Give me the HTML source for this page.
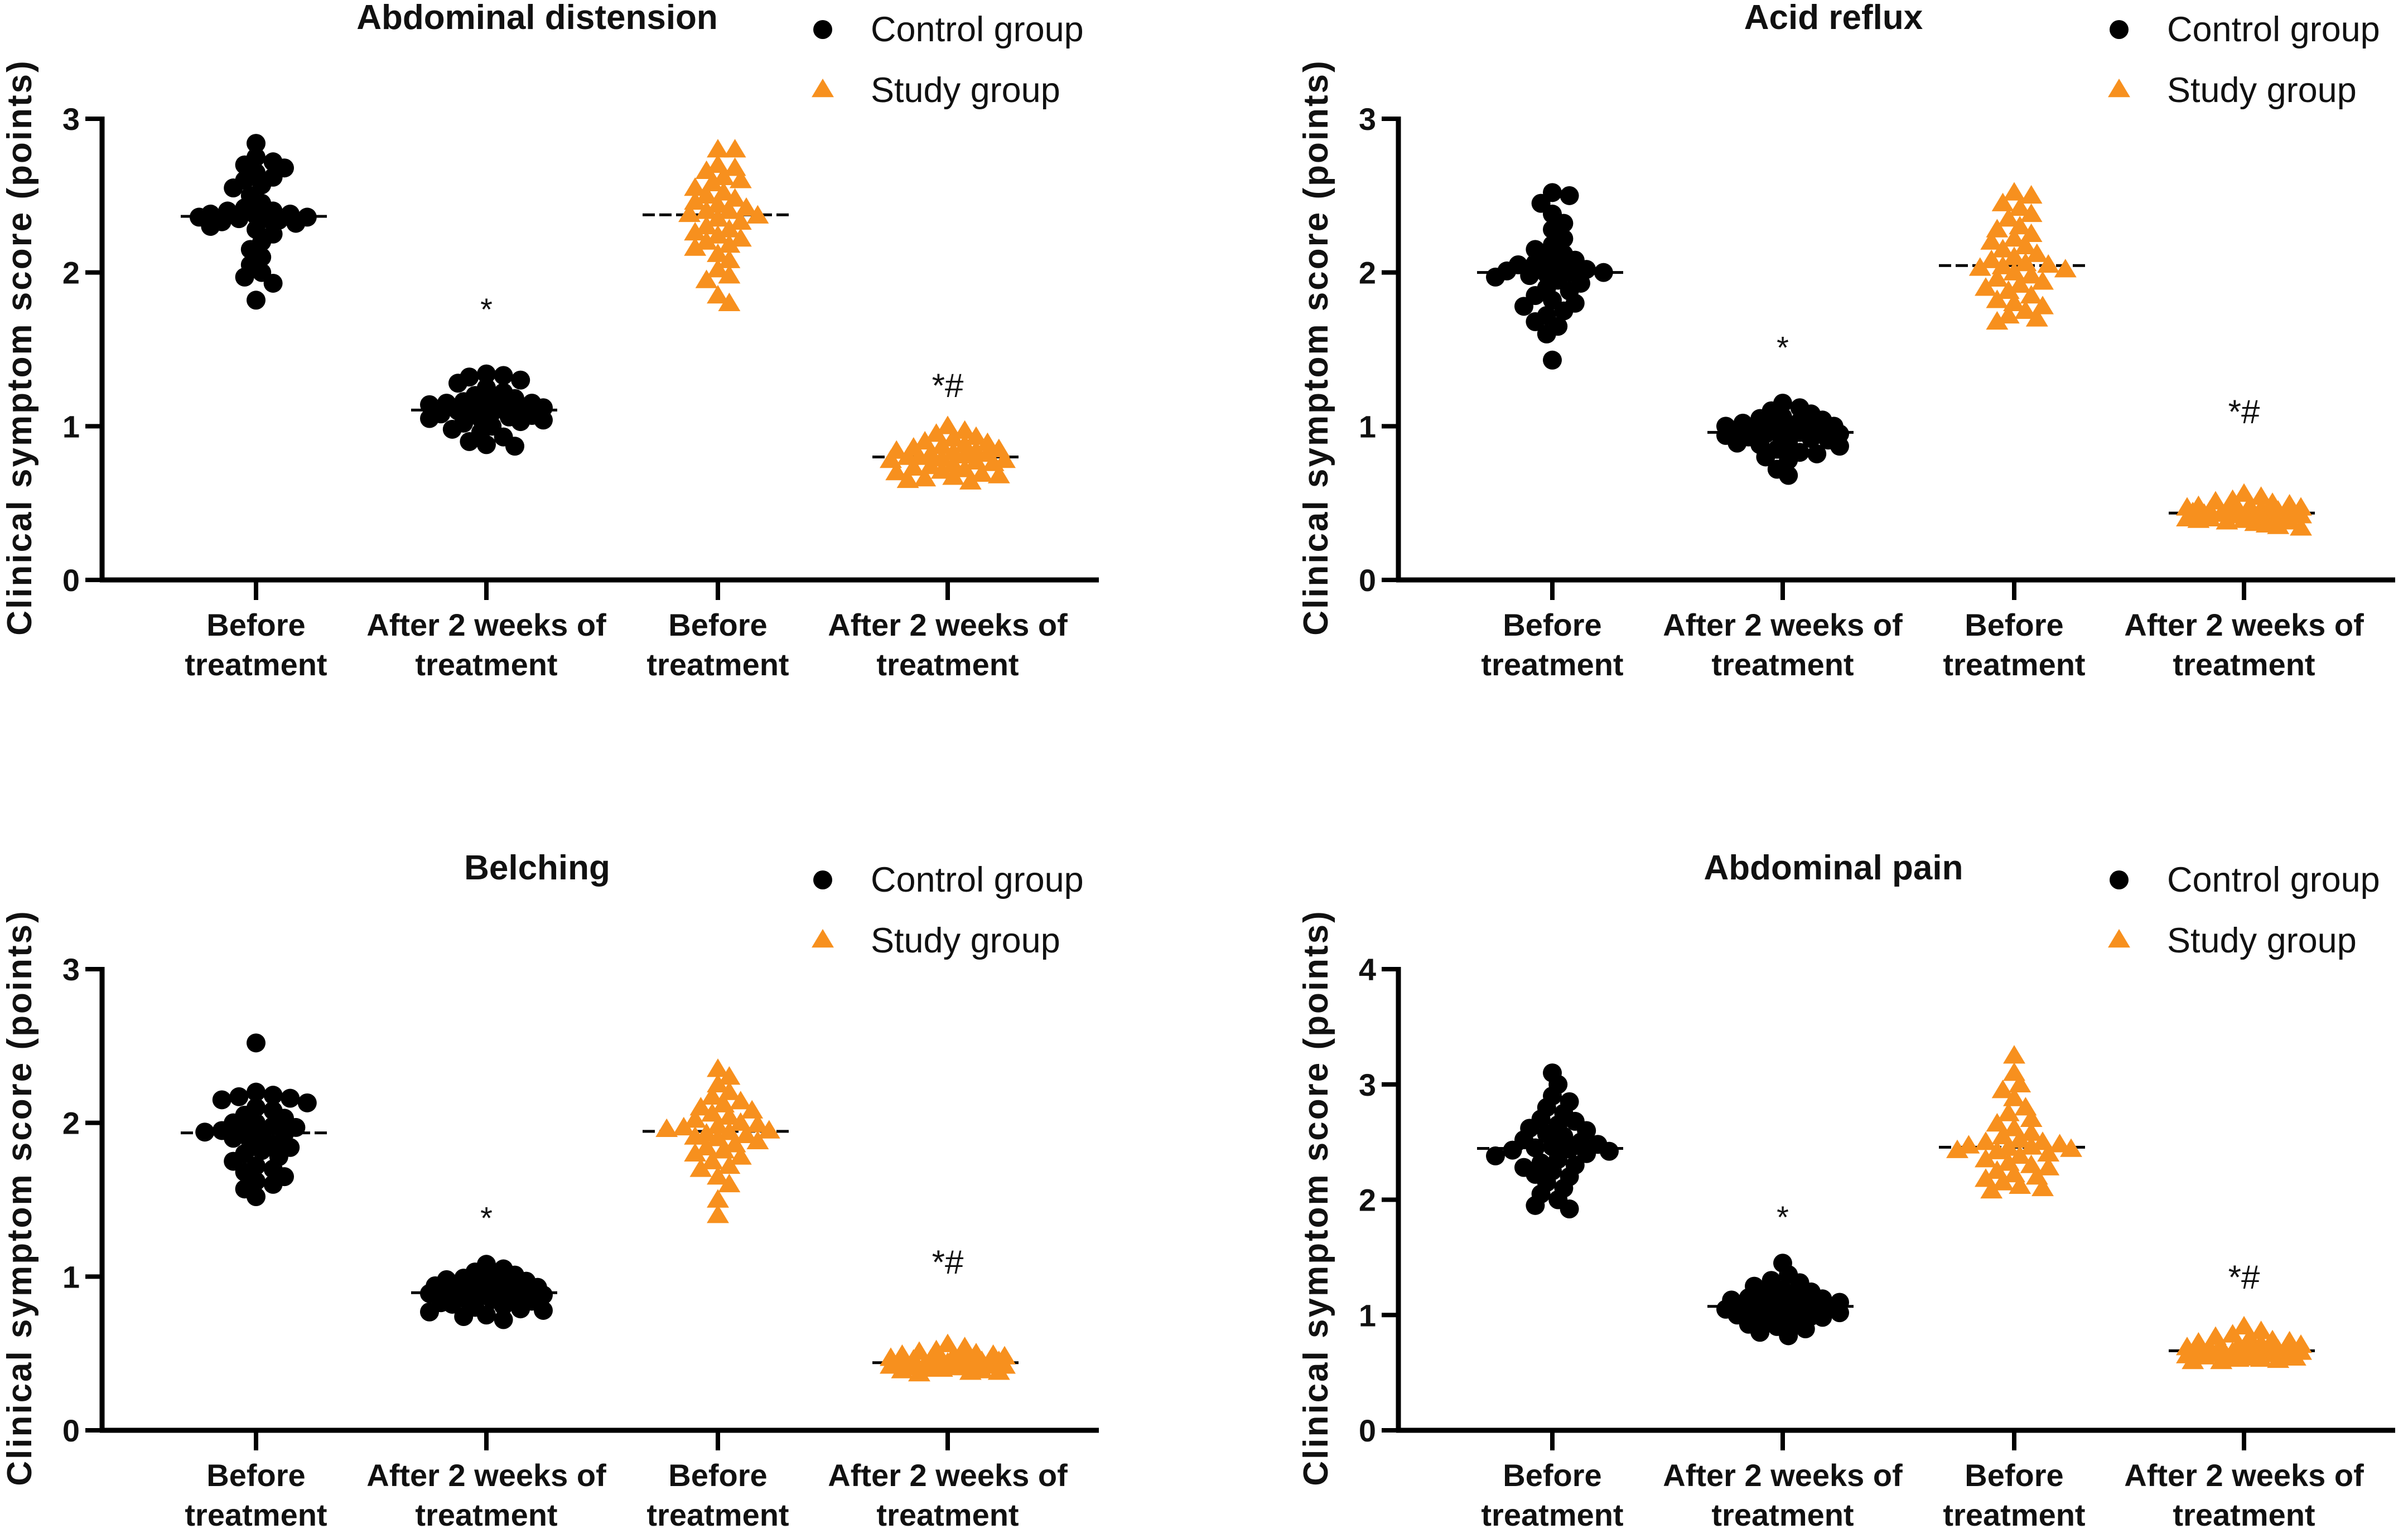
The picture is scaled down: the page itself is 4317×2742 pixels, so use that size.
<!DOCTYPE html>
<html><head><meta charset="utf-8">
<style>
html,body{margin:0;padding:0;background:#fff;}
svg{display:block;font-family:"Liberation Sans",Arial,sans-serif;}
</style></head>
<body>
<svg id="chart" width="4317" height="2742" viewBox="0 0 4317 2742" xmlns="http://www.w3.org/2000/svg"></svg>
<script>
// ---- data ----
const panelTitles = ["Abdominal distension","Acid reflux","Belching","Abdominal pain"];
const panelYMax = [3,3,3,4];
const categoryLine1 = ["Before","After 2 weeks of","Before","After 2 weeks of"];
const categoryLine2 = ["treatment","treatment","treatment","treatment"];
const seriesNames = ["Control group","Study group"];
const sigStar = [1.8,1.55,1.42,1.90];
const sigStarHash = [1.28,1.11,1.11,1.35];

const p1CtrlBefore=[2.84,2.75,2.72,2.7,2.68,2.65,2.62,2.6,2.57,2.55,2.5,2.45,2.42,2.4,2.4,2.38,2.38,2.37,2.36,2.36,2.35,2.35,2.34,2.33,2.32,2.3,2.28,2.25,2.2,2.15,2.1,2.05,2.0,1.97,1.93,1.82];
const p1CtrlAfter=[1.34,1.33,1.32,1.3,1.28,1.25,1.22,1.2,1.18,1.17,1.16,1.15,1.15,1.14,1.13,1.12,1.12,1.11,1.1,1.1,1.09,1.08,1.07,1.06,1.05,1.05,1.04,1.03,1.02,1.0,0.98,0.96,0.93,0.9,0.88,0.87];
const p1StudyBefore=[2.8,2.8,2.7,2.68,2.66,2.62,2.6,2.58,2.55,2.52,2.5,2.48,2.46,2.44,2.42,2.4,2.4,2.38,2.37,2.35,2.33,2.3,2.28,2.26,2.24,2.22,2.2,2.18,2.16,2.12,2.08,2.02,1.98,1.95,1.85,1.8];
const p1StudyAfter=[1.0,0.97,0.95,0.93,0.92,0.9,0.89,0.88,0.87,0.86,0.85,0.84,0.84,0.83,0.82,0.82,0.81,0.8,0.8,0.79,0.78,0.78,0.77,0.76,0.75,0.74,0.73,0.72,0.71,0.7,0.69,0.68,0.67,0.66,0.65,0.64];
const p2CtrlBefore=[2.52,2.5,2.45,2.38,2.32,2.28,2.22,2.18,2.15,2.12,2.1,2.08,2.06,2.05,2.03,2.02,2.01,2.0,2.0,1.99,1.98,1.97,1.95,1.93,1.9,1.88,1.85,1.82,1.8,1.78,1.75,1.72,1.68,1.65,1.6,1.43];
const p2CtrlAfter=[1.15,1.12,1.1,1.08,1.06,1.05,1.04,1.03,1.02,1.01,1.0,1.0,0.99,0.98,0.98,0.97,0.97,0.96,0.96,0.95,0.95,0.94,0.93,0.92,0.91,0.9,0.89,0.88,0.87,0.85,0.83,0.82,0.8,0.78,0.72,0.68];
const p2StudyBefore=[2.52,2.5,2.45,2.42,2.38,2.35,2.3,2.28,2.25,2.22,2.2,2.17,2.15,2.12,2.1,2.08,2.06,2.05,2.04,2.03,2.02,2.0,1.98,1.96,1.94,1.92,1.9,1.88,1.85,1.82,1.8,1.78,1.75,1.72,1.7,1.68];
const p2StudyAfter=[0.56,0.54,0.52,0.51,0.5,0.49,0.48,0.48,0.47,0.47,0.46,0.46,0.45,0.45,0.45,0.44,0.44,0.44,0.43,0.43,0.43,0.42,0.42,0.42,0.41,0.41,0.4,0.4,0.39,0.39,0.38,0.38,0.37,0.36,0.35,0.34];
const p3CtrlBefore=[2.52,2.2,2.18,2.17,2.16,2.15,2.13,2.1,2.08,2.05,2.03,2.0,2.0,1.98,1.97,1.96,1.95,1.94,1.93,1.92,1.9,1.88,1.86,1.84,1.82,1.8,1.78,1.75,1.72,1.7,1.68,1.65,1.62,1.6,1.57,1.52];
const p3CtrlAfter=[1.08,1.05,1.03,1.01,1.0,0.99,0.98,0.97,0.96,0.95,0.94,0.93,0.93,0.92,0.92,0.91,0.9,0.9,0.89,0.89,0.88,0.88,0.87,0.86,0.85,0.84,0.83,0.82,0.81,0.8,0.79,0.78,0.77,0.75,0.74,0.72];
const p3StudyBefore=[2.35,2.3,2.25,2.2,2.17,2.14,2.12,2.1,2.08,2.06,2.04,2.02,2.0,1.99,1.98,1.97,1.96,1.95,1.94,1.93,1.92,1.91,1.9,1.88,1.86,1.84,1.82,1.8,1.78,1.75,1.72,1.7,1.65,1.6,1.5,1.4];
const p3StudyAfter=[0.56,0.54,0.52,0.51,0.5,0.49,0.49,0.48,0.48,0.47,0.47,0.46,0.46,0.46,0.45,0.45,0.45,0.44,0.44,0.44,0.43,0.43,0.43,0.42,0.42,0.42,0.41,0.41,0.41,0.4,0.4,0.39,0.39,0.38,0.38,0.37];
const p4CtrlBefore=[3.1,3.0,2.9,2.85,2.8,2.75,2.7,2.68,2.65,2.62,2.6,2.57,2.55,2.52,2.5,2.48,2.46,2.45,2.44,2.43,2.42,2.4,2.38,2.35,2.32,2.3,2.28,2.25,2.22,2.2,2.15,2.1,2.05,2.0,1.95,1.92];
const p4CtrlAfter=[1.45,1.35,1.3,1.28,1.25,1.22,1.2,1.18,1.16,1.15,1.14,1.13,1.12,1.11,1.1,1.1,1.09,1.08,1.07,1.06,1.05,1.05,1.04,1.03,1.02,1.01,1.0,0.99,0.98,0.96,0.94,0.92,0.9,0.88,0.85,0.82];
const p4StudyBefore=[3.25,3.1,3.0,2.95,2.88,2.8,2.75,2.7,2.66,2.62,2.58,2.55,2.52,2.5,2.5,2.48,2.47,2.46,2.45,2.44,2.43,2.42,2.4,2.38,2.35,2.32,2.3,2.28,2.25,2.22,2.2,2.18,2.15,2.12,2.1,2.08];
const p4StudyAfter=[0.9,0.86,0.83,0.81,0.8,0.78,0.77,0.76,0.75,0.74,0.73,0.72,0.72,0.71,0.71,0.7,0.7,0.69,0.69,0.68,0.68,0.67,0.67,0.66,0.66,0.65,0.65,0.64,0.64,0.63,0.63,0.62,0.62,0.61,0.6,0.6];

const panelGroups = [
  [p1CtrlBefore,p1CtrlAfter,p1StudyBefore,p1StudyAfter],
  [p2CtrlBefore,p2CtrlAfter,p2StudyBefore,p2StudyAfter],
  [p3CtrlBefore,p3CtrlAfter,p3StudyBefore,p3StudyAfter],
  [p4CtrlBefore,p4CtrlAfter,p4StudyBefore,p4StudyAfter]
];

// ---- layout ----
const NS="http://www.w3.org/2000/svg";
const svg=document.getElementById('chart');
const ORANGE="#f7901e";
const R=17;
function mk(tag,attrs,parent){const e=document.createElementNS(NS,tag);for(const k in attrs)e.setAttribute(k,attrs[k]);(parent||svg).appendChild(e);return e;}
function txt(s,attrs,parent){const e=mk('text',attrs,parent);e.textContent=s;return e;}
function median(a){const s=[...a].sort((x,y)=>x-y);const n=s.length;return n%2?s[(n-1)/2]:(s[n/2-1]+s[n/2])/2;}
function triPts(cx,cy,s){return `${cx},${cy-s} ${cx-s*1.05},${cy+s*0.75} ${cx+s*1.05},${cy+s*0.75}`;}

function swarm(vals,yScale,cx){
  const sorted=[...vals].sort((a,b)=>b-a);
  const placed=[];const minD=R*1.35;const step=R*0.6;const cap=110;
  sorted.forEach(v=>{
    const y=yScale(v);let best=cx,bestD=-1;
    for(let k=0;k<60;k++){
      const off=(k===0)?0:(Math.ceil(k/2)*step*(k%2?1:-1));
      if(Math.abs(off)>cap)break;
      const x=cx+off;
      let d=Infinity;placed.forEach(p=>{d=Math.min(d,Math.hypot(p[0]-x,p[1]-y));});
      if(d>=minD){best=x;break;}
      if(d>bestD){bestD=d;best=x;}
    }
    placed.push([best,y]);
  });
  return placed;
}

for(let p=0;p<4;p++){
  const col=p%2,row=Math.floor(p/2);
  const dx=col*2324,dy=row*1525;
  const g=mk('g',{});
  
  
  const ax=183+dx, y0=1040+dy, yTop=213+dy, xEnd=1970+dx;
  const ymax=panelYMax[p];
  const yScale=v=>y0-(v/ymax)*(y0-yTop);
  const catX=[459,872,1287,1699].map(x=>x+dx);

  const t=txt(panelTitles[p],{x:963+dx,y:52+dy,'text-anchor':'middle','font-size':62,'font-weight':'bold',fill:'#111'},g);
  
  

  const l1=mk('circle',{cx:1475+dx,cy:53+dy,r:R},g);
  
  
  const lt1=txt(seriesNames[0],{x:1561+dx,y:74+dy,'font-size':63,fill:'#111'},g);
  
  
  const l2=mk('polygon',{points:triPts(1475+dx,160+dy,R+2),fill:ORANGE},g);
  
  
  const lt2=txt(seriesNames[1],{x:1561+dx,y:183+dy,'font-size':63,fill:'#111'},g);
  
  

  const yt=txt("Clinical symptom score (points)",{x:0,y:0,transform:`translate(${56+dx},${623+dy}) rotate(-90)`,'text-anchor':'middle','font-size':62,'font-weight':'bold',fill:'#111','letter-spacing':'3'},g);
  
  

  const ya=mk('line',{x1:ax,y1:yTop-4,x2:ax,y2:y0+4,stroke:'#000','stroke-width':9},g);
  
  
  const xa=mk('line',{x1:ax-4,y1:y0,x2:xEnd,y2:y0,stroke:'#000','stroke-width':9},g);
  
  
  for(let v=0;v<=ymax;v++){
    const y=yScale(v);
    mk('line',{x1:ax-30,y1:y,x2:ax,y2:y,stroke:'#000','stroke-width':8},g);
    const tl=txt(String(v),{x:ax-40,y:y+20,'text-anchor':'end','font-size':56,'font-weight':'bold',fill:'#111'},g);
    
    
  }
  for(let c=0;c<4;c++){
    mk('line',{x1:catX[c],y1:y0,x2:catX[c],y2:y0+36,stroke:'#000','stroke-width':8},g);
    const c1=txt(categoryLine1[c],{x:catX[c],y:y0+100,'text-anchor':'middle','font-size':56,'font-weight':'bold',fill:'#111'},g);
    
    
    const c2=txt(categoryLine2[c],{x:catX[c],y:y0+171,'text-anchor':'middle','font-size':56,'font-weight':'bold',fill:'#111'},g);
    
    
  }

  panelGroups[p].forEach((vals,gi)=>{
    const isStudy=gi>=2;
    const md=yScale(median(vals));
    const ml=mk('line',{x1:catX[gi]-135,y1:md,x2:catX[gi]+135,y2:md,stroke:'#000','stroke-width':5,'stroke-dasharray':'22 8'},g);
    
    
    const pts=swarm(vals,yScale,catX[gi]);
    pts.forEach(pt=>{
      let m;
      if(isStudy){m=mk('polygon',{points:triPts(pt[0],pt[1],R+2),fill:ORANGE},g);}
      else{m=mk('circle',{cx:pt[0],cy:pt[1],r:R,fill:'#000'},g);}
      
      
    });
  });

  const s1=txt("*",{x:catX[1],y:yScale(sigStar[p])+30,'text-anchor':'middle','font-size':56,fill:'#111'},g);
  
  
  const s2=txt("*#",{x:catX[3],y:yScale(sigStarHash[p])+25,'text-anchor':'middle','font-size':60,fill:'#111'},g);
  
  
}
</script>
</body></html>
